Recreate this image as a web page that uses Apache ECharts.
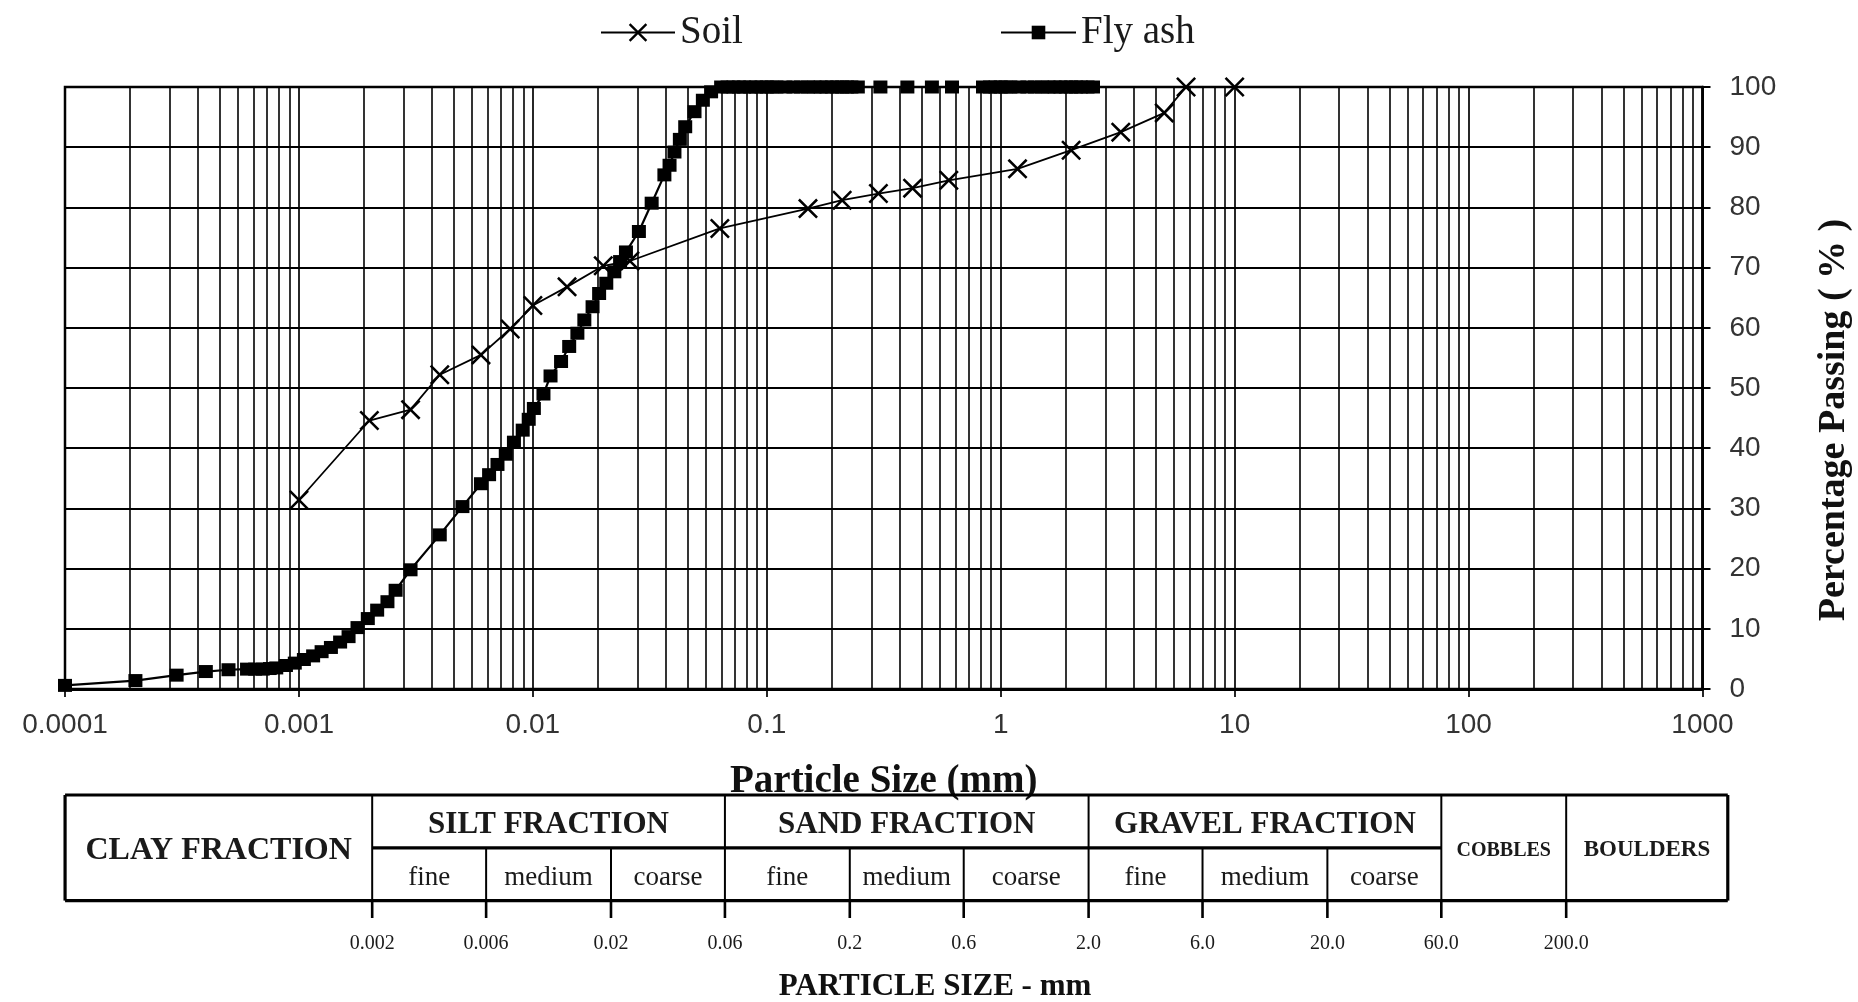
<!DOCTYPE html>
<html>
<head>
<meta charset="utf-8">
<title>Grain size distribution – Soil and Fly ash</title>
<script src="https://cdn.jsdelivr.net/npm/echarts@6/dist/echarts.min.js"></script>
<style>
  html, body { margin: 0; padding: 0; background: #fff; }
  #chart { width: 1858px; height: 1002px; }
</style>
</head>
<body>
<div id="chart"></div>
<script>
// ---- Data -------------------------------------------------------------
// Decade labels of the particle-size axis (0.0001 mm ... 1000 mm)
const sizeTickLabels = ['0.0001', '0.001', '0.01', '0.1', '1', '10', '100', '1000'];

// Soil: particle size (mm) and percentage passing
const soilSize    = [0.001, 0.002, 0.003, 0.004, 0.006, 0.008, 0.01, 0.014, 0.02, 0.026, 0.063,
                     0.15, 0.21, 0.3, 0.42, 0.6, 1.18, 2.0, 3.26, 5.0, 6.2, 10];
const soilPassing = [31.4, 44.6, 46.4, 52.2, 55.5, 59.8, 63.7, 66.8, 70.3, 71.1, 76.5,
                     79.8, 81.2, 82.3, 83.2, 84.5, 86.4, 89.5, 92.5, 95.7, 100, 100];

// Fly ash: particle size (mm) and percentage passing
const flyAshSize = [
  0.0001, 0.0002, 0.0003, 0.0004, 0.0005, 0.0006, 0.00065, 0.0007, 0.00075, 0.0008,
  0.00088, 0.00096, 0.00105, 0.00115, 0.00125, 0.00137, 0.0015, 0.00163, 0.00178, 0.00197,
  0.00216, 0.00239, 0.00259, 0.003, 0.004, 0.005, 0.006, 0.0065, 0.00706, 0.00766,
  0.0083, 0.00905, 0.0096, 0.0101, 0.0111, 0.0119, 0.0132, 0.0143, 0.0155, 0.0166,
  0.018, 0.0192, 0.0206, 0.0223, 0.0236, 0.025, 0.0284, 0.0322, 0.0365, 0.0384,
  0.0403, 0.0425, 0.0448, 0.0491, 0.0533, 0.0578, 0.0638,
  0.068, 0.072, 0.076, 0.08, 0.085, 0.09, 0.095, 0.1, 0.105, 0.11,
  0.12, 0.13, 0.14, 0.15, 0.16, 0.17, 0.18, 0.19, 0.2, 0.21,
  0.22, 0.23, 0.245, 0.306, 0.399, 0.508, 0.619, 0.84, 0.9, 0.95,
  1.0, 1.05, 1.1, 1.2, 1.3, 1.4, 1.5, 1.6, 1.7, 1.8,
  1.9, 2.0, 2.1, 2.2, 2.35, 2.48
];
const flyAshPassing = [
  0.6, 1.4, 2.3, 2.9, 3.2, 3.3, 3.3, 3.3, 3.4, 3.5,
  3.9, 4.3, 4.9, 5.5, 6.2, 6.9, 7.8, 8.7, 10.2, 11.7,
  13.1, 14.5, 16.4, 19.8, 25.6, 30.3, 34.1, 35.6, 37.3, 39.0,
  41.0, 43.0, 44.8, 46.6, 49.0, 52.0, 54.4, 56.9, 59.1, 61.3,
  63.5, 65.7, 67.4, 69.3, 71.0, 72.6, 76.0, 80.7, 85.4, 87.0,
  89.2, 91.3, 93.4, 95.9, 97.8, 99.2, 100,
  100, 100, 100, 100, 100, 100, 100, 100, 100, 100,
  100, 100, 100, 100, 100, 100, 100, 100, 100, 100,
  100, 100, 100, 100, 100, 100, 100, 100, 100, 100,
  100, 100, 100, 100, 100, 100, 100, 100, 100, 100,
  100, 100, 100, 100, 100, 100
];

// Particle-size classification band (mm)
const tableExtent   = [1.035e-4, 950];
const mainBounds    = [0.002, 0.06, 2, 60, 200];
const subBounds     = [0.006, 0.02, 0.2, 0.6, 6, 20];
const boundValues   = [0.002, 0.006, 0.02, 0.06, 0.2, 0.6, 2, 6, 20, 60, 200];
const boundLabels   = ['0.002', '0.006', '0.02', '0.06', '0.2', '0.6', '2.0', '6.0', '20.0', '60.0', '200.0'];
const fractionNames = ['CLAY FRACTION', 'SILT FRACTION', 'SAND FRACTION', 'GRAVEL FRACTION', 'COBBLES', 'BOULDERS'];
const fractionRanges = [[1.035e-4, 0.002], [0.002, 0.06], [0.06, 2], [2, 60], [60, 200], [200, 950]];
const subNames      = ['fine', 'medium', 'coarse', 'fine', 'medium', 'coarse', 'fine', 'medium', 'coarse'];
const subRanges     = [[0.002, 0.006], [0.006, 0.02], [0.02, 0.06],
                       [0.06, 0.2], [0.2, 0.6], [0.6, 2],
                       [2, 6], [6, 20], [20, 60]];

// ---- Styling helpers ---------------------------------------------------
const SERIF = '"Liberation Serif", "Times New Roman", serif';
const SANS = '"Liberation Sans", Arial, sans-serif';
// an "x" mark drawn as a filled outline so it scales with symbolSize
const crossSymbol = 'path://M0,1.8L1.8,0L10,8.2L18.2,0L20,1.8L11.8,10L20,18.2L18.2,20L10,11.8L1.8,20L0,18.2L8.2,10Z';

// ---- Table geometry built from the classification arrays --------------
// segment: [x1, y1, x2, y2, kind]  (kind 0 = frame, 1 = divider, 2 = tick)
const tableSegments = [];
tableSegments.push([tableExtent[0], 0, tableExtent[1], 0, 0]);
tableSegments.push([tableExtent[0], 2, tableExtent[1], 2, 0]);
tableSegments.push([tableExtent[0], 0, tableExtent[0], 2, 0]);
tableSegments.push([tableExtent[1], 0, tableExtent[1], 2, 0]);
tableSegments.push([mainBounds[0], 1, mainBounds[3], 1, 0]);
mainBounds.forEach(b => tableSegments.push([b, 0, b, 2, 1]));
subBounds.forEach(b => tableSegments.push([b, 0, b, 1, 1]));
boundValues.forEach(b => tableSegments.push([b, 0, b, -0.33, 2]));
const segmentWidth = [3.2, 2, 2.6];

// text item: {text, from, to, row, kind}; rows are placed a touch below each band's middle
const tableTexts = [];
fractionNames.forEach((name, i) => {
  const spans = i >= 1 && i <= 3;
  tableTexts.push({ text: name, from: fractionRanges[i][0], to: fractionRanges[i][1],
                    row: spans ? 1.44 : 0.95, kind: i === 4 ? 'cobbles' : i === 5 ? 'boulders' : (i === 0 ? 'clay' : 'head') });
});
subNames.forEach((name, i) => {
  tableTexts.push({ text: name, from: subRanges[i][0], to: subRanges[i][1], row: 0.43, kind: 'sub' });
});
boundLabels.forEach((lab, i) => {
  tableTexts.push({ text: lab, from: boundValues[i], to: boundValues[i], row: -0.82, kind: 'bound' });
});
const textFonts = {
  head: 'bold 31px ' + SERIF,
  clay: 'bold 32px ' + SERIF,
  cobbles: 'bold 20px ' + SERIF,
  boulders: 'bold 23px ' + SERIF,
  sub: '27px ' + SERIF,
  bound: '20px ' + SERIF
};

// ---- Chart -------------------------------------------------------------
const chart = echarts.init(document.getElementById('chart'), null, { renderer: 'canvas' });

const option = {
  animation: false,
  backgroundColor: '#fff',
  legend: [
    {
      data: ['Soil'], left: 600, top: 13, padding: 0,
      itemWidth: 74, itemHeight: 23, itemGap: 0,
      textStyle: { fontFamily: SERIF, fontSize: 39, color: '#1a1a1a' }
    },
    {
      data: ['Fly ash'], left: 1000, top: 13, padding: 0,
      itemWidth: 75, itemHeight: 17, itemGap: 0,
      textStyle: { fontFamily: SERIF, fontSize: 39, color: '#1a1a1a' }
    }
  ],
  grid: [
    { left: 65, right: 155.5, top: 87, bottom: 313, show: true, borderColor: '#000', borderWidth: 2.5, containLabel: false },
    { left: 61.5, right: 124.9, top: 795, bottom: 101.4, show: false }
  ],
  xAxis: [
    {
      type: 'log', logBase: 10, min: 0.0001, max: 1000, gridIndex: 0,
      name: 'Particle Size (mm)', nameLocation: 'middle', nameGap: 73,
      nameTextStyle: { fontFamily: SERIF, fontWeight: 'bold', fontSize: 39, color: '#111' },
      axisLine: { show: true, lineStyle: { color: '#000', width: 3 } },
      axisTick: { show: true, inside: false, length: 8, lineStyle: { color: '#000', width: 1.7 } },
      axisLabel: {
        margin: 22, fontFamily: SANS, fontSize: 28, color: '#333',
        formatter: v => sizeTickLabels[Math.round(Math.log10(v)) + 4]
      },
      splitLine: { show: true, lineStyle: { color: '#000', width: 1.7 } },
      minorTick: { show: false, splitNumber: 10 },
      minorSplitLine: { show: true, lineStyle: { color: '#000', width: 1.6 } }
    },
    {
      type: 'log', logBase: 10, min: 0.0001, max: 1000, gridIndex: 1, show: false
    }
  ],
  yAxis: [
    {
      type: 'value', min: 0, max: 100, interval: 10, position: 'right', gridIndex: 0,
      axisLine: { show: true, lineStyle: { color: '#000', width: 2.5 } },
      axisTick: { show: true, inside: false, length: 8, lineStyle: { color: '#000', width: 2 } },
      axisLabel: { margin: 27, fontFamily: SANS, fontSize: 28, color: '#333' },
      splitLine: { show: true, lineStyle: { color: '#000', width: 2.1 } }
    },
    {
      type: 'value', min: 0, max: 2, gridIndex: 1, show: false
    }
  ],
  graphic: [
    {
      type: 'text', x: 1834, y: 420, rotation: Math.PI / 2,
      style: { text: 'Percentage Passing ( % )', font: 'bold 38px ' + SERIF, fill: '#111', align: 'center', verticalAlign: 'middle' }
    },
    {
      type: 'text', x: 935, y: 987,
      style: { text: 'PARTICLE SIZE - mm', font: 'bold 31px ' + SERIF, fill: '#111', align: 'center', verticalAlign: 'middle' }
    }
  ],
  series: [
    {
      name: 'Fly ash', type: 'line', xAxisIndex: 0, yAxisIndex: 0,
      data: flyAshSize.map((s, i) => [s, flyAshPassing[i]]),
      symbol: 'rect', symbolSize: [14, 13], showAllSymbol: true,
      lineStyle: { color: '#000', width: 2.2 },
      itemStyle: { color: '#000' },
      emphasis: { disabled: true }, z: 3
    },
    {
      name: 'Soil', type: 'line', xAxisIndex: 0, yAxisIndex: 0,
      data: soilSize.map((s, i) => [s, soilPassing[i]]),
      symbol: crossSymbol, symbolSize: 20, showAllSymbol: true,
      lineStyle: { color: '#000', width: 1.8 },
      itemStyle: { color: '#000' },
      emphasis: { disabled: true }, z: 4
    },
    {
      // classification band: frame, dividers and ticks
      type: 'custom', xAxisIndex: 1, yAxisIndex: 1, silent: true, clip: false,
      data: tableSegments,
      encode: { x: [0, 2], y: [1, 3] },
      renderItem: (params, api) => {
        const a = api.coord([api.value(0), api.value(1)]);
        const b = api.coord([api.value(2), api.value(3)]);
        return {
          type: 'line',
          shape: { x1: a[0], y1: a[1], x2: b[0], y2: b[1] },
          style: { stroke: '#000', lineWidth: segmentWidth[api.value(4)] }
        };
      }
    },
    {
      // classification band: names and boundary sizes
      type: 'custom', xAxisIndex: 1, yAxisIndex: 1, silent: true, clip: false,
      data: tableTexts.map(t => [t.from, t.to, t.row]),
      encode: { x: [0, 1], y: 2 },
      renderItem: (params, api) => {
        const t = tableTexts[params.dataIndex];
        const p = api.coord([Math.sqrt(api.value(0) * api.value(1)), api.value(2)]);
        return {
          type: 'text', x: p[0], y: p[1],
          style: { text: t.text, font: textFonts[t.kind], fill: '#1a1a1a', align: 'center', verticalAlign: 'middle' }
        };
      }
    }
  ]
};

chart.setOption(option);
</script>
</body>
</html>
